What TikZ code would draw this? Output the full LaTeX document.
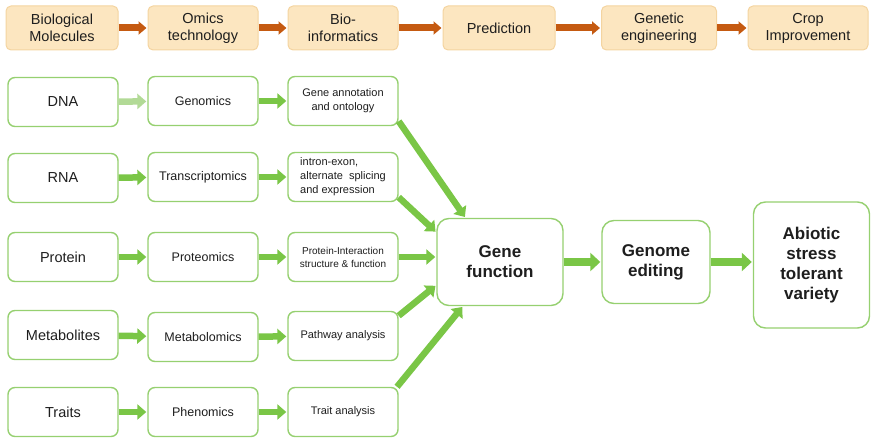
\documentclass[tikz,border=0pt]{standalone}
\usepackage{fontspec}
\setmainfont{Liberation Sans}
\usepackage{xcolor}
\usepackage{tikz}
\usetikzlibrary{arrows.meta, calc}

\definecolor{topfill}{RGB}{252,230,192}
\definecolor{topedge}{RGB}{244,212,160}
\definecolor{boxedge}{RGB}{150,208,112}
\definecolor{arrgreen}{RGB}{122,198,70}
\definecolor{fadegreen}{RGB}{178,218,150}
\definecolor{brownarr}{RGB}{197,90,17}
\definecolor{txt}{RGB}{30,30,30}

\begin{document}
\begin{tikzpicture}[
  x=1pt, y=-1pt,
  top/.style={draw=topedge, fill=topfill, rounded corners=5pt, line width=1pt,
              minimum height=44pt, inner sep=0pt, align=center, text=txt,
              font=\fontsize{14.5}{17}\selectfont},
  box/.style={draw=boxedge, fill=white, rounded corners=7pt, line width=1.4pt,
              minimum width=110pt, minimum height=49pt, inner sep=0pt,
              align=center, text=txt},
  mol/.style={box, font=\fontsize{14.5}{17}\selectfont},
  omic/.style={box, font=\fontsize{12.5}{15}\selectfont},
  info/.style={box, font=\fontsize{11}{14}\selectfont},
  big/.style={box, rounded corners=12pt, font=\bfseries\fontsize{17}{20}\selectfont},
  barr/.style={draw=brownarr, line width=7pt, shorten >=1pt,
               -{Triangle[length=8pt, width=13pt]}},
  garr/.style={draw=arrgreen, line width=6.5pt, shorten >=1pt,
               -{Triangle[length=9pt, width=15pt]}},
  farr/.style={garr, draw=fadegreen},
]
\useasboundingbox (0,0) rectangle (871,438);

% pipeline along the top
\node[top, minimum width=112pt] (bio) at (62,28) {Biological\\Molecules};
\node[top, minimum width=110pt] (omics) at (203,28) {Omics\\technology};
\node[top, minimum width=110pt] (binf) at (343,28) {Bio-\\informatics};
\node[top, minimum width=112pt] (pred) at (499,28) {Prediction};
\node[top, minimum width=115pt] (gen) at (659,28) {Genetic\\engineering};
\node[top, minimum width=120pt] (crop) at (808,28) {Crop\\Improvement};

\draw[barr] (bio) -- (omics);
\draw[barr] (omics) -- (binf);
\draw[barr] (binf) -- (pred);
\draw[barr] (pred) -- (gen);
\draw[barr] (gen) -- (crop);

% molecules -> omics -> analysis
\node[mol] (dna) at (63,102) {DNA};
\node[omic] (geno) at (203,101) {Genomics};
\node[info] (ann) at (343,101) {Gene annotation\\and ontology};

\node[mol] (rna) at (63,178) {RNA};
\node[omic] (trans) at (203,177) {Transcriptomics};
\node[info, align=left] (intr) at (343,177) {intron-exon,\\alternate\ \ splicing\\and expression};

\node[mol] (prot) at (63,257) {Protein};
\node[omic] (prote) at (203,257) {Proteomics};
\node[info, font=\fontsize{10}{13}\selectfont] (pint) at (343,257)
  {Protein-Interaction\\structure \& function};

\node[mol] (met) at (63,335) {Metabolites};
\node[omic] (metab) at (203,337) {Metabolomics};
\node[info] (path) at (343,336) {Pathway analysis};

\node[mol] (trait) at (63,412) {Traits};
\node[omic] (phen) at (203,412) {Phenomics};
\node[info] (tana) at (343,412) {Trait analysis};

\draw[farr] (dna) -- (geno);
\draw[garr] (geno) -- (ann);
\draw[garr] (rna) -- (trans);
\draw[garr] (trans) -- (intr);
\draw[garr] (prot) -- (prote);
\draw[garr] (prote) -- (pint);
\draw[garr] (met) -- (metab);
\draw[garr] (metab) -- (path);
\draw[garr] (trait) -- (phen);
\draw[garr] (phen) -- (tana);

% right-hand side
\node[big, minimum width=126pt, minimum height=87pt] (gf) at (500,262) {Gene\\function};
\node[big, minimum width=108pt, minimum height=83pt] (ge) at (656,262) {Genome\\editing};
\node[big, minimum width=116pt, minimum height=126pt] (abio) at (811.5,265)
  {Abiotic\\stress\\tolerant\\variety};

\draw[garr] (ann.-20) -- (gf.128);
\draw[garr] (intr.-20) -- (gf.155);
\draw[garr] (pint.east) -- (pint.east -| gf.west);
\draw[garr] (path.20) -- (gf.200);
\draw[garr] (tana.25) -- (gf.230);
\draw[garr, line width=8pt, -{Triangle[length=10pt, width=18pt]}] (gf) -- (ge);
\draw[garr, line width=8pt, -{Triangle[length=10pt, width=18pt]}] (ge.east) -- (ge.east -| abio.west);
\end{tikzpicture}
\end{document}
